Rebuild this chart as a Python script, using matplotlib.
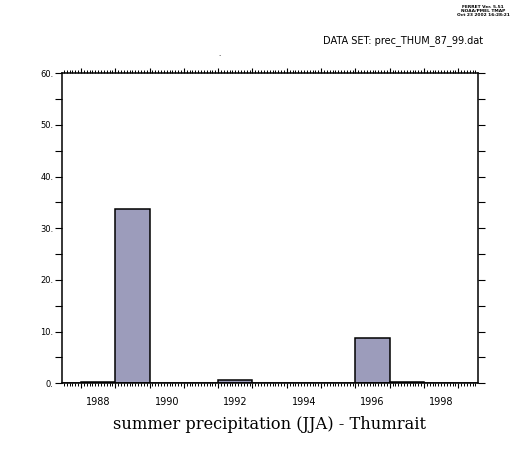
import numpy as np
import matplotlib
matplotlib.use("Agg")
import matplotlib.pyplot as plt
from matplotlib.ticker import MultipleLocator, FuncFormatter

# ---- data ----
years = [1987, 1988, 1989, 1990, 1991, 1992, 1993, 1994, 1995, 1996, 1997, 1998, 1999]
precip = [0.0, 0.3, 33.7, 0.0, 0.0, 0.55, 0.0, 0.0, 0.0, 8.8, 0.3, 0.0, 0.0]
xtick_labels = ["1988", "1990", "1992", "1994", "1996", "1998"]
ytick_values = [0, 10, 20, 30, 40, 50, 60]
title = "summer precipitation (JJA) - Thumrait"
dataset = "DATA SET: prec_THUM_87_99.dat"
stamp = ["FERRET Ver. 5.51", "NOAA/PMEL TMAP", "Oct 23 2002 16:28:21"]

bar_color = "#9c9cbb"

fig = plt.figure(figsize=(5.31, 4.57), dpi=100)
ax = fig.add_axes([0.1173, 0.1613, 0.7823, 0.6783])

ax.bar(years, precip, width=1.0, align="edge", color=bar_color,
       edgecolor="black", linewidth=1.1, zorder=2)

ax.set_xlim(1987.455, 1999.565)
ax.set_ylim(0, 60)

for s in ax.spines.values():
    s.set_linewidth(1.1)

# x ticks: yearly major (long), monthly minor (short), both sides, outward
ax.xaxis.set_major_locator(MultipleLocator(1))
ax.xaxis.set_minor_locator(MultipleLocator(1 / 12))
ax.tick_params(axis="x", which="major", direction="out", length=3.8, width=0.8,
               top=True, bottom=True, labelbottom=False)
ax.tick_params(axis="x", which="minor", direction="out", length=2.2, width=0.7,
               top=True, bottom=True)

# year labels centered in the middle of the year
sec = ax.secondary_xaxis("bottom")
sec.set_xticks([int(t) + 0.5 for t in xtick_labels])
sec.set_xticklabels(xtick_labels)
sec.tick_params(length=0, pad=10, labelsize=7)
sec.spines["bottom"].set_visible(False)

# y ticks
ax.set_yticks(ytick_values)
ax.yaxis.set_major_formatter(FuncFormatter(lambda v, p: f"{int(v)}."))
ax.yaxis.set_minor_locator(MultipleLocator(5))
ax.tick_params(axis="y", which="both", direction="out", length=5, width=0.8,
               left=True, right=True, labelsize=6, pad=1.5)

fig.text(0.508, 0.072, title, ha="center", va="center",
         family="DejaVu Serif", fontsize=11.7)
fig.text(0.910, 0.912, dataset, ha="right", va="center", fontsize=7.0)
fig.text(0.910, 0.975, "\n".join(stamp), ha="center", va="center",
         fontsize=3.2, linespacing=1.0, fontweight="bold")
fig.text(0.4125, 0.882, ".", ha="center", va="center", fontsize=5)

fig.savefig("out.png", dpi=100)
